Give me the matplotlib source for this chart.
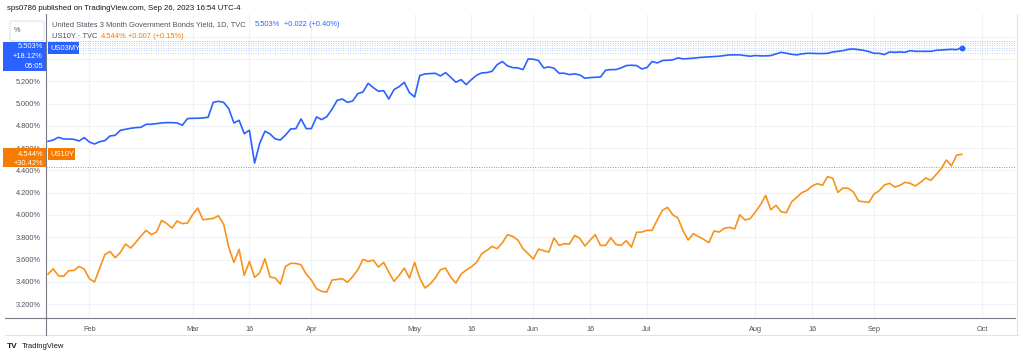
import numpy as np
import pandas as pd
import matplotlib
matplotlib.use('Agg')
import matplotlib.pyplot as plt
from matplotlib.patches import Rectangle, FancyBboxPatch
from matplotlib.lines import Line2D

plt.rcParams['font.family'] = ['Liberation Sans', 'DejaVu Sans']

# daily closes (every weekday) from 2023-01-20 to 2023-09-26
us03my = [4.661, 4.673, 4.697, 4.682, 4.682, 4.679, 4.664, 4.694,
          4.655, 4.637, 4.658, 4.667, 4.709, 4.715, 4.760, 4.769,
          4.778, 4.784, 4.787, 4.814, 4.814, 4.820, 4.826, 4.829,
          4.829, 4.826, 4.805, 4.865, 4.868, 4.868, 4.871, 4.877,
          5.011, 5.020, 5.011, 4.954, 4.826, 4.850, 4.730, 4.760,
          4.466, 4.643, 4.751, 4.727, 4.682, 4.673, 4.718, 4.772,
          4.775, 4.862, 4.775, 4.775, 4.880, 4.856, 4.883, 4.949,
          5.029, 5.041, 5.011, 5.023, 5.089, 5.104, 5.182, 5.143,
          5.110, 5.116, 5.041, 5.125, 5.152, 5.191, 5.098, 5.059,
          5.251, 5.266, 5.269, 5.272, 5.248, 5.278, 5.236, 5.191,
          5.215, 5.170, 5.215, 5.254, 5.275, 5.278, 5.290, 5.350,
          5.377, 5.338, 5.323, 5.320, 5.305, 5.401,
          5.398, 5.386, 5.320, 5.329, 5.317, 5.272, 5.272, 5.260,
          5.266, 5.257, 5.227, 5.233, 5.236, 5.239, 5.299, 5.305,
          5.305, 5.320, 5.341, 5.344, 5.341, 5.311, 5.323, 5.377,
          5.365, 5.386, 5.389, 5.392, 5.410, 5.401, 5.404, 5.407,
          5.413, 5.416, 5.419, 5.422, 5.425, 5.431, 5.437, 5.437,
          5.437, 5.431, 5.425, 5.431, 5.428, 5.428,
          5.431, 5.446, 5.460, 5.451, 5.443, 5.437, 5.446, 5.451,
          5.451, 5.449, 5.449, 5.451, 5.463, 5.469, 5.475, 5.487,
          5.490, 5.484, 5.478, 5.466, 5.451, 5.451, 5.440, 5.463,
          5.460, 5.463, 5.460, 5.475, 5.469, 5.469, 5.469, 5.469,
          5.478, 5.481, 5.484, 5.487, 5.484, 5.503]

us10y = [3.469, 3.517, 3.454, 3.449, 3.499, 3.502, 3.538, 3.514,
         3.428, 3.398, 3.523, 3.643, 3.673, 3.616, 3.664, 3.739,
         3.703, 3.754, 3.811, 3.862, 3.823, 3.847, 3.951, 3.922,
         3.883, 3.946, 3.922, 3.928, 4.002, 4.062, 3.957, 3.963,
         3.969, 3.993, 3.919, 3.709, 3.574, 3.691, 3.458, 3.583,
         3.440, 3.481, 3.607, 3.443, 3.434, 3.380, 3.538, 3.566,
         3.565, 3.553, 3.469, 3.416, 3.338, 3.314, 3.308, 3.416,
         3.422, 3.428, 3.395, 3.446, 3.508, 3.601, 3.583, 3.595,
         3.532, 3.574, 3.487, 3.404, 3.458, 3.523, 3.434, 3.574,
         3.434, 3.344, 3.380, 3.434, 3.508, 3.523, 3.440, 3.389,
         3.469, 3.505, 3.535, 3.574, 3.652, 3.682, 3.718, 3.697,
         3.751, 3.823, 3.808, 3.775, 3.697, 3.652,
         3.604, 3.694, 3.679, 3.667, 3.793, 3.727, 3.742, 3.739,
         3.817, 3.790, 3.721, 3.775, 3.823, 3.727, 3.727, 3.796,
         3.736, 3.727, 3.769, 3.712, 3.844, 3.847, 3.862, 3.862,
         3.955, 4.041, 4.068, 4.002, 3.972, 3.859, 3.775, 3.832,
         3.805, 3.781, 3.751, 3.856, 3.847, 3.880, 3.889, 3.874,
         4.002, 3.955, 3.966, 4.026, 4.092, 4.175,
         4.047, 4.086, 4.029, 4.020, 4.116, 4.158, 4.200, 4.221,
         4.260, 4.281, 4.266, 4.344, 4.329, 4.203, 4.242, 4.239,
         4.206, 4.125, 4.119, 4.113, 4.188, 4.218, 4.269, 4.284,
         4.251, 4.266, 4.293, 4.284, 4.260, 4.293, 4.332, 4.311,
         4.362, 4.416, 4.493, 4.440, 4.538, 4.544]

tick_dates = ['2023-02-01', '2023-03-01', '2023-03-16', '2023-04-03', '2023-05-01',
              '2023-05-16', '2023-06-01', '2023-06-16', '2023-07-03', '2023-08-01',
              '2023-08-16', '2023-09-01', '2023-10-02']
tick_labels = ['Feb', 'Mar', '16', 'Apr', 'May', '16', 'Jun', '16', 'Jul', 'Aug',
               '16', 'Sep', 'Oct']
y_ticks = [3.2, 3.4, 3.6, 3.8, 4.0, 4.2, 4.4, 4.6, 4.8, 5.0, 5.2, 5.4, 5.6]
hidden_ticks = [5.4, 5.6]   # sit behind the last-value labels

BLUE = '#2962FF'
ORANGE = '#F7931A'
ORANGE_BOX = '#F57C00'
TXT = '#50535E'
GRID = '#EFF2F7'

W, H = 1022, 358
def fx(x):
    return x / W
def fy(y):
    return 1 - y / H

days = pd.bdate_range('2023-01-20', '2023-10-13')
x = np.arange(len(us03my))
tick_pos = days.get_indexer(pd.to_datetime(tick_dates))

fig = plt.figure(figsize=(W / 100, H / 100), dpi=100)
fig.patch.set_facecolor('white')
ax = fig.add_axes([fx(46), fy(318), fx(1015) - fx(46), fy(14) - fy(318)])

ax.plot(x, us03my, color=BLUE, lw=1.2, zorder=3)
ax.plot(x, us10y, color=ORANGE, lw=1.2, zorder=3)
ax.plot(x[-1], us03my[-1], 'o', color=BLUE, ms=3.2, zorder=4)

# price lines
ax.axhline(4.431, color='#9598A1', lw=0.7, ls=(0, (1, 1.5)), zorder=2)
for v, c in [(5.564, '#B2B5BE'), (5.541, '#BBCCF5'), (5.523, '#BBCCF5'),
             (5.501, '#BBCCF5'), (5.481, '#BBCCF5'), (5.454, '#F5C6C6')]:
    ax.axhline(v, color=c, lw=0.7, ls=(0, (1, 1.5)), zorder=2)

ax.set_xlim(-0.4, 187.3)
ax.set_ylim(3.075, 5.804)
ax.set_yticks(y_ticks)
ax.set_yticklabels(['' if v in hidden_ticks else f'{v:.3f}%' for v in y_ticks])
ax.set_xticks(tick_pos)
ax.set_xticklabels(tick_labels)
ax.grid(True, color=GRID, lw=0.8, zorder=0)
ax.tick_params(length=0, labelsize=5.3, colors=TXT)
ax.tick_params(axis='x', pad=6)
ax.tick_params(axis='y', pad=4)
for s in ['top', 'right']:
    ax.spines[s].set_visible(False)
ax.spines['left'].set_color('#787B86')
ax.spines['bottom'].set_color('#787B86')
ax.spines['left'].set_linewidth(0.8)
ax.spines['bottom'].set_linewidth(0.8)

# frame around the whole chart block
fig.add_artist(Line2D([fx(5), fx(1018)], [fy(335), fy(335)], color='#E0E3EB', lw=0.8))
fig.add_artist(Line2D([fx(46), fx(46)], [fy(318), fy(335)], color='#787B86', lw=0.8))
fig.add_artist(Line2D([fx(5), fx(46)], [fy(318), fy(318)], color='#787B86', lw=0.8))
fig.add_artist(Line2D([fx(1017), fx(1017)], [fy(14), fy(335)], color='#E0E3EB', lw=0.8))

# header
fig.text(fx(7), fy(8), 'sps0786 published on TradingView.com, Sep 26, 2023 16:54 UTC-4',
         fontsize=5.6, color='#131722', va='center', ha='left')

# legend lines
fig.text(fx(52), fy(25), 'United States 3 Month Government Bonds Yield, 1D, TVC',
         fontsize=5.4, color=TXT, va='center')
fig.text(fx(255), fy(25), '5.503%', fontsize=5.4, color=BLUE, va='center')
fig.text(fx(284), fy(25), '+0.022 (+0.40%)', fontsize=5.4, color=BLUE, va='center')
fig.text(fx(52), fy(37), 'US10Y · TVC', fontsize=5.4, color=TXT, va='center')
fig.text(fx(101), fy(37), '4.544%', fontsize=5.4, color=ORANGE_BOX, va='center')
fig.text(fx(128), fy(37), '+0.007 (+0.15%)', fontsize=5.4, color=ORANGE_BOX, va='center')

# "%" box
fig.add_artist(FancyBboxPatch((fx(10), fy(41)), fx(34), 20 / H,
                              boxstyle='round,pad=0,rounding_size=0.004',
                              facecolor='white', edgecolor='#E0E3EB', lw=0.8, zorder=5))
fig.text(fx(14), fy(30), '%', fontsize=5.3, color=TXT, va='center', zorder=6)

# last value labels on the axis
fig.add_artist(Rectangle((fx(3), fy(71)), fx(43), 29 / H, facecolor=BLUE,
                         edgecolor='none', zorder=5))
for yy, s in [(47, '5.503%'), (57, '+18.12%'), (66, '05:05')]:
    fig.text(fx(43), fy(yy), s, fontsize=5.4, color='white', ha='right', va='center', zorder=6)
fig.add_artist(Rectangle((fx(48), fy(54)), fx(31), 12 / H, facecolor=BLUE,
                         edgecolor='none', zorder=5))
fig.text(fx(50), fy(48), 'US03MY', fontsize=5.4, color='white', va='center', zorder=6)

fig.add_artist(Rectangle((fx(3), fy(167)), fx(43), 19 / H, facecolor=ORANGE_BOX,
                         edgecolor='none', zorder=5))
for yy, s in [(154.5, '4.544%'), (163, '+30.42%')]:
    fig.text(fx(43), fy(yy), s, fontsize=5.4, color='white', ha='right', va='center', zorder=6)
fig.add_artist(Rectangle((fx(48), fy(160)), fx(27), 12 / H, facecolor=ORANGE_BOX,
                         edgecolor='none', zorder=5))
fig.text(fx(50), fy(154), 'US10Y', fontsize=5.4, color='white', va='center', zorder=6)

# footer
fig.text(fx(7), fy(346), 'TV', fontsize=6, color='#131722', weight='bold', va='center')
fig.text(fx(22), fy(346), 'TradingView', fontsize=5.5, color='#131722', va='center')

fig.savefig('out.png', dpi=100, facecolor='white')
